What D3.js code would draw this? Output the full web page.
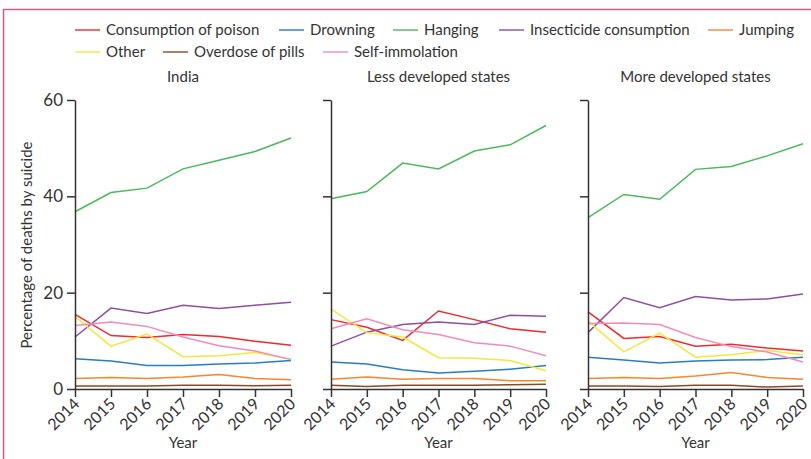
<!DOCTYPE html>
<html>
<head>
<meta charset="utf-8">
<script src="https://cdn.jsdelivr.net/npm/d3@7"></script>
<style>
  body { margin: 0; background: #fff; }
  text { font-family: "Lato", "Open Sans", sans-serif; fill: #333; }
</style>
</head>
<body>
<script>
const width = 811;
const height = 459;

const years = [2014, 2015, 2016, 2017, 2018, 2019, 2020];
const yTicks = [0, 20, 40, 60];
const seriesNames = ['Consumption of poison', 'Drowning', 'Hanging', 'Insecticide consumption',
    'Jumping', 'Other', 'Overdose of pills', 'Self-immolation'];
const seriesColors = ['#ee2a2e', '#2a7cc1', '#4cb85a', '#8c4fa3', '#f7862e', '#f1e83e', '#8b4a2a', '#f08cbb'];
const panelTitles = ['India', 'Less developed states', 'More developed states'];

// values per series, same order as seriesNames
const indiaValues = [
    [15.5, 11.1, 10.7, 11.3, 10.9, 9.9, 9.1],
    [6.3, 5.8, 4.9, 4.9, 5.2, 5.4, 5.9],
    [36.8, 40.8, 41.7, 45.7, 47.5, 49.3, 52.1],
    [10.8, 16.8, 15.7, 17.4, 16.7, 17.4, 18.0],
    [2.2, 2.4, 2.2, 2.5, 3.0, 2.2, 1.9],
    [15.0, 8.9, 11.4, 6.7, 6.9, 7.6, 6.2],
    [0.6, 0.6, 0.6, 0.8, 0.8, 0.7, 0.8],
    [13.2, 13.9, 13.0, 10.8, 9.0, 7.9, 6.1]
];
const lessDevValues = [
    [14.4, 12.8, 10.1, 16.2, 14.4, 12.5, 11.8],
    [5.6, 5.2, 4.0, 3.3, 3.7, 4.1, 4.9],
    [39.5, 41.0, 46.9, 45.7, 49.4, 50.7, 54.7],
    [8.9, 11.8, 13.4, 13.9, 13.4, 15.3, 15.1],
    [2.0, 2.5, 2.0, 2.2, 2.2, 1.7, 1.7],
    [16.6, 11.7, 10.8, 6.5, 6.4, 5.9, 3.8],
    [0.8, 0.5, 0.8, 0.8, 0.8, 0.9, 1.0],
    [12.5, 14.6, 12.3, 11.3, 9.6, 8.9, 6.9]
];
const moreDevValues = [
    [16.0, 10.5, 10.9, 8.9, 9.3, 8.5, 7.9],
    [6.6, 6.0, 5.4, 5.8, 6.0, 6.1, 6.6],
    [35.6, 40.4, 39.4, 45.6, 46.2, 48.4, 50.9],
    [11.7, 19.0, 16.9, 19.2, 18.5, 18.7, 19.7],
    [2.2, 2.4, 2.2, 2.7, 3.4, 2.4, 2.0],
    [14.1, 7.7, 11.6, 6.6, 7.1, 8.0, 7.1],
    [0.6, 0.6, 0.5, 0.8, 0.8, 0.4, 0.6],
    [13.6, 13.7, 13.4, 10.7, 8.8, 7.7, 5.6]
];
const panelValues = [indiaValues, lessDevValues, moreDevValues];

const svg = d3.select('body').append('svg')
    .attr('width', width)
    .attr('height', height);

// outer frame
svg.append('path')
    .attr('d', `M3.5,${height} V9.5 H${width}`)
    .attr('fill', 'none')
    .attr('stroke', '#cf5d80')
    .attr('stroke-width', 1.5);

// legend
const legendRows = [
    [{ i: 0, x: 75 }, { i: 1, x: 279 }, { i: 2, x: 393 }, { i: 3, x: 499 }, { i: 4, x: 708 }],
    [{ i: 5, x: 75 }, { i: 6, x: 163 }, { i: 7, x: 323 }]
];
legendRows.forEach((row, r) => {
    const ly = 30 + r * 22;
    row.forEach(item => {
        const lg = svg.append('g').attr('transform', `translate(${item.x},${ly})`);
        lg.append('line')
            .attr('x1', 0).attr('x2', 25)
            .attr('stroke', seriesColors[item.i])
            .attr('stroke-opacity', 0.7)
            .attr('stroke-width', 2);
        lg.append('text')
            .attr('x', 31)
            .attr('dy', '0.35em')
            .style('font-size', '15px')
            .text(seriesNames[item.i]);
    });
});

const y = d3.scaleLinear().domain([0, 60]).range([389, 100]);
const panelX = [[75, 291], [331, 546], [588, 803]];

panelX.forEach((px, p) => {
    const x = d3.scaleLinear().domain([2014, 2020]).range(px);
    const g = svg.append('g');

    const line = d3.line()
        .x((d, i) => x(years[i]))
        .y(d => y(d));

    g.selectAll('path.series')
        .data(panelValues[p])
        .enter().append('path')
        .attr('class', 'series')
        .attr('d', line)
        .attr('fill', 'none')
        .attr('stroke', (d, i) => seriesColors[i])
        .attr('stroke-width', 1.5);

    // y axis
    const yAxis = g.append('g')
        .attr('transform', `translate(${px[0]},0)`)
        .call(d3.axisLeft(y).tickValues(yTicks).tickSize(8).tickSizeOuter(0).tickPadding(4));
    if (p > 0) yAxis.selectAll('text').remove();
    yAxis.selectAll('text').style('font-size', '17px');

    // x axis
    const xAxis = g.append('g')
        .attr('transform', 'translate(0,389)')
        .call(d3.axisBottom(x).tickValues(years).tickFormat(d3.format('d')).tickSize(8).tickSizeOuter(0));
    xAxis.selectAll('text')
        .style('font-size', '16px')
        .style('text-anchor', 'end')
        .attr('x', 0)
        .attr('y', 0)
        .attr('dx', 0)
        .attr('dy', '0.35em')
        .attr('transform', 'translate(1,12) rotate(-45)');

    [yAxis, xAxis].forEach(a => {
        a.selectAll('path.domain').attr('stroke', '#333').attr('stroke-width', 1.5);
        a.selectAll('line').attr('stroke', '#333').attr('stroke-width', 1.5);
    });

    svg.append('text')
        .attr('x', (px[0] + px[1]) / 2)
        .attr('y', 77)
        .attr('text-anchor', 'middle')
        .attr('dy', '0.35em')
        .style('font-size', '15px')
        .text(panelTitles[p]);

    svg.append('text')
        .attr('x', (px[0] + px[1]) / 2)
        .attr('y', 443)
        .attr('text-anchor', 'middle')
        .attr('dy', '0.35em')
        .style('font-size', '15px')
        .text('Year');
});

svg.append('text')
    .attr('transform', 'translate(27,245) rotate(-90)')
    .attr('text-anchor', 'middle')
    .attr('dy', '0.35em')
    .style('font-size', '15px')
    .text('Percentage of deaths by suicide');
</script>
</body>
</html>
